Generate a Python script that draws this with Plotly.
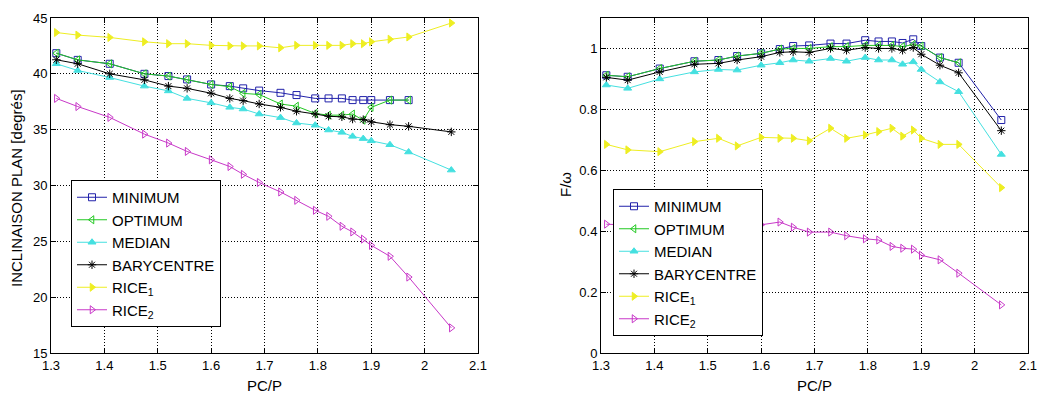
import plotly.graph_objects as go

# ---- data ----
X = [1.31, 1.35, 1.41, 1.475, 1.52, 1.555, 1.60, 1.635, 1.66, 1.69, 1.73,
     1.76, 1.795, 1.82, 1.845, 1.865, 1.885, 1.90, 1.935, 1.97, 2.05]

SERIES = ["MINIMUM", "OPTIMUM", "MEDIAN", "BARYCENTRE", "RICE<sub>1</sub>", "RICE<sub>2</sub>"]

# left panel: INCLINAISON PLAN [degrés]
MIN_L = [41.85, 41.25, 40.9, 40.0, 39.8, 39.5, 39.05, 38.9, 38.7, 38.5, 38.3,
         38.1, 37.8, 37.8, 37.8, 37.65, 37.65, 37.65, 37.65, 37.65, None]
OPT_L = [41.85, 41.25, 40.9, 40.0, 39.8, 39.5, 39.05, 38.85, 38.25, 38.15, 37.3,
         37.1, 36.45, 36.3, 36.3, 36.4, 35.85, 37.0, 37.65, 37.65, None]
MED_L = [40.9, 40.3, 39.67, 38.9, 38.47, 37.8, 37.4, 37.0, 36.85, 36.4, 36.08,
         35.6, 35.4, 34.97, 34.76, 34.4, 34.2, 34.0, 33.65, 33.0, 31.38]
BAR_L = [41.26, 40.9, 40.0, 39.46, 38.9, 38.7, 38.26, 37.8, 37.6, 37.3, 37.0,
         36.65, 36.4, 36.2, 36.15, 35.95, 35.9, 35.7, 35.45, 35.3, 34.8]
R1_L = [43.7, 43.47, 43.26, 42.87, 42.7, 42.7, 42.55, 42.5, 42.5, 42.5, 42.33,
        42.55, 42.55, 42.55, 42.55, 42.7, 42.7, 42.87, 43.1, 43.3, 44.55]
R2_L = [37.8, 37.07, 36.1, 34.6, 33.8, 33.05, 32.3, 31.7, 31.0, 30.27, 29.42,
        28.67, 27.78, 27.24, 26.35, 25.84, 25.2, 24.64, 23.66, 21.8, 17.25]

# right panel: F/ω
MIN_R = [0.912, 0.907, 0.934, 0.958, 0.962, 0.975, 0.984, 0.998, 1.008, 1.01, 1.016,
         1.016, 1.027, 1.023, 1.023, 1.018, 1.03, 1.008, 0.97, 0.953, 0.765]
OPT_R = [0.912, 0.907, 0.934, 0.958, 0.962, 0.975, 0.984, 0.998, 1.0, 1.0, 1.006,
         1.006, 1.01, 1.01, 1.01, 1.006, 1.013, 1.008, 0.97, 0.953, None]
MED_R = [0.88, 0.869, 0.9, 0.923, 0.931, 0.929, 0.945, 0.953, 0.962, 0.958, 0.967,
         0.958, 0.97, 0.962, 0.962, 0.948, 0.956, 0.931, 0.89, 0.858, 0.652]
BAR_R = [0.905, 0.896, 0.923, 0.948, 0.951, 0.962, 0.973, 0.987, 0.989, 0.987, 1.0,
         0.994, 1.003, 1.0, 1.0, 0.994, 1.003, 0.981, 0.945, 0.92, 0.73]
R1_R = [0.685, 0.667, 0.661, 0.694, 0.705, 0.68, 0.708, 0.705, 0.705, 0.697, 0.738,
        0.705, 0.716, 0.727, 0.738, 0.712, 0.732, 0.705, 0.685, 0.685, 0.543]
R2_R = [0.423, 0.42, 0.42, 0.42, 0.42, 0.42, 0.421, 0.43, 0.413, 0.397, 0.397,
        0.385, 0.375, 0.371, 0.35, 0.344, 0.341, 0.321, 0.306, 0.262, 0.158]

X_TICKS = [1.3, 1.4, 1.5, 1.6, 1.7, 1.8, 1.9, 2.0, 2.1]
X_TICKTEXT = ["1.3", "1.4", "1.5", "1.6", "1.7", "1.8", "1.9", "2", "2.1"]
YL_TICKS = [15, 20, 25, 30, 35, 40, 45]
YR_TICKS = [0, 0.2, 0.4, 0.6, 0.8, 1]
YR_TICKTEXT = ["0", "0.2", "0.4", "0.6", "0.8", "1"]

# ---- styles ----
COLORS = ["#2222aa", "#22c822", "#44e0e0", "#000000", "#eeee22", "#c838c8"]
SYMBOLS = ["square-open", "triangle-left-open", "triangle-up", "asterisk-open",
           "triangle-right", "triangle-right-open"]
FONT = "Liberation Sans, Arial, Helvetica, sans-serif"

fig = go.Figure()

left = [MIN_L, OPT_L, MED_L, BAR_L, R1_L, R2_L]
right = [MIN_R, OPT_R, MED_R, BAR_R, R1_R, R2_R]

for i, name in enumerate(SERIES):
    fig.add_trace(go.Scatter(
        x=X, y=left[i], name=name, mode="lines+markers",
        line=dict(color=COLORS[i], width=1),
        marker=dict(symbol=SYMBOLS[i], size=7, color=COLORS[i],
                    line=dict(color=COLORS[i], width=1)),
        xaxis="x", yaxis="y", legend="legend", connectgaps=False))
for i, name in enumerate(SERIES):
    fig.add_trace(go.Scatter(
        x=X, y=right[i], name=name, mode="lines+markers",
        line=dict(color=COLORS[i], width=1),
        marker=dict(symbol=SYMBOLS[i], size=7, color=COLORS[i],
                    line=dict(color=COLORS[i], width=1)),
        xaxis="x2", yaxis="y2", legend="legend2", connectgaps=False))

W, H = 1037, 394


def px(p):
    return p / W


def py(p):
    return 1 - p / H


L_x0, L_x1 = 51, 478
R_x0, R_x1 = 601, 1028
Y_top, Y_bot = 18, 353

axis_common = dict(
    showline=True, linecolor="black", linewidth=1, mirror="ticks",
    ticks="inside", ticklen=5, tickcolor="black",
    showgrid=True, gridcolor="black", gridwidth=1, griddash="1px,2px",
    zeroline=False, tickfont=dict(family=FONT, size=13, color="black"),
    automargin=False, ticklabeloverflow="allow",
)

ydom = [py(Y_bot), py(Y_top)]

fig.update_layout(
    width=W, height=H,
    margin=dict(l=0, r=0, t=0, b=0, pad=0, autoexpand=False),
    paper_bgcolor="white", plot_bgcolor="white",
    font=dict(family=FONT, color="black"),
    xaxis=dict(domain=[px(L_x0), px(L_x1)], range=[1.3, 2.1], anchor="y",
               tickvals=X_TICKS, ticktext=X_TICKTEXT, **axis_common),
    yaxis=dict(domain=ydom, range=[15, 45], anchor="x",
               tickvals=YL_TICKS, **axis_common),
    xaxis2=dict(domain=[px(R_x0), px(R_x1)], range=[1.3, 2.1], anchor="y2",
                tickvals=X_TICKS, ticktext=X_TICKTEXT, **axis_common),
    yaxis2=dict(domain=ydom, range=[0, 1.1], anchor="x2",
                tickvals=YR_TICKS, ticktext=YR_TICKTEXT, **axis_common),
    legend=dict(x=px(71), y=py(180), xanchor="left", yanchor="top",
                bgcolor="white", bordercolor="black", borderwidth=1,
                font=dict(family=FONT, size=15, color="black")),
    legend2=dict(x=px(613), y=py(189), xanchor="left", yanchor="top",
                 bgcolor="white", bordercolor="black", borderwidth=1,
                 font=dict(family=FONT, size=15, color="black")),
    showlegend=True,
    annotations=[
        dict(text="PC/P", x=px((L_x0 + L_x1) / 2), y=py(385), xref="paper", yref="paper",
             xanchor="center", yanchor="middle",
             showarrow=False, font=dict(family=FONT, size=15, color="black")),
        dict(text="PC/P", x=px((R_x0 + R_x1) / 2), y=py(385), xref="paper", yref="paper",
             xanchor="center", yanchor="middle",
             showarrow=False, font=dict(family=FONT, size=15, color="black")),
        dict(text="INCLINAISON PLAN [degrés]", x=px(16), y=py(188), xref="paper", yref="paper",
             xanchor="center", yanchor="middle",
             textangle=-90, showarrow=False, font=dict(family=FONT, size=15, color="black")),
        dict(text="F/ω", x=px(565), y=py(185), xref="paper", yref="paper",
             xanchor="center", yanchor="middle",
             textangle=-90, showarrow=False, font=dict(family=FONT, size=15, color="black")),
    ],
)

fig.write_html(
    "out.html",
    config={"displayModeBar": False},
    post_script="document.body.style.margin='0';document.body.style.padding='0';"
                "document.body.style.overflow='hidden';"
                "document.documentElement.style.overflow='hidden';",
)
